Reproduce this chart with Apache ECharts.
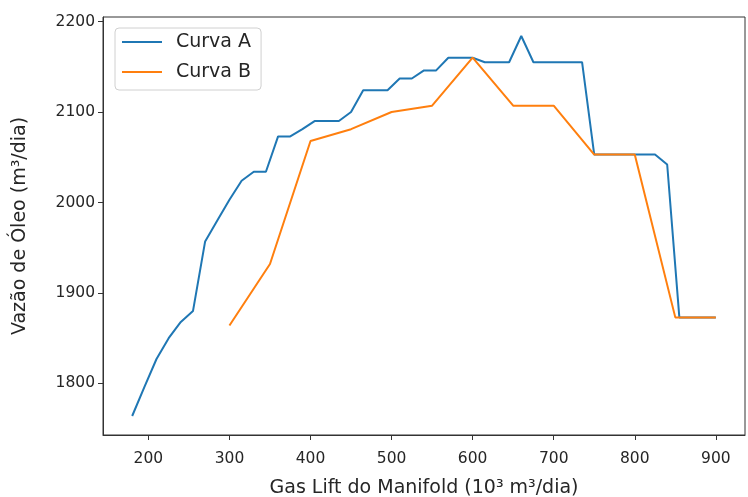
<!DOCTYPE html>
<html>
<head>
<meta charset="utf-8">
<script src="https://cdn.jsdelivr.net/npm/echarts@6/dist/echarts.min.js"></script>
<style>
  html, body { margin: 0; padding: 0; background: #fff; }
  #chart { width: 748px; height: 497px; }
</style>
</head>
<body>
<div id="chart"></div>
<script>
// Curva A: gas lift injection (10³ m³/dia) and oil rate (m³/dia)
const gasLiftA = [180, 195, 210, 225, 240, 255, 270, 285, 300, 315, 330, 345, 360, 375, 390,
  405, 420, 435, 450, 465, 480, 495, 510, 525, 540, 555, 570, 585, 600, 615, 630, 645, 660,
  675, 690, 705, 720, 735, 750, 765, 780, 795, 810, 825, 840, 855, 870, 885, 900];
const oilA = [1764, 1796, 1827, 1850, 1868, 1880, 1957, 1980, 2003, 2024, 2034, 2034, 2073, 2073, 2081,
  2090, 2090, 2090, 2100, 2124, 2124, 2124, 2137, 2137, 2146, 2146, 2160, 2160, 2160, 2155, 2155, 2155, 2184,
  2155, 2155, 2155, 2155, 2155, 2053, 2053, 2053, 2053, 2053, 2053, 2042, 1873, 1873, 1873, 1873];

// Curva B
const gasLiftB = [300, 350, 400, 450, 500, 550, 600, 650, 700, 750, 800, 850, 900];
const oilB = [1864, 1932, 2068, 2081, 2100, 2107, 2160, 2107, 2107, 2053, 2053, 1873, 1873];

// Tick labels
const xTicks = [200, 300, 400, 500, 600, 700, 800, 900];
const yTicks = [1800, 1900, 2000, 2100, 2200];

const seriesNames = ['Curva A', 'Curva B'];
const xTitle = 'Gas Lift do Manifold (10³ m³/dia)';
const yTitle = 'Vazão de Óleo (m³/dia)';

const FONT = 'DejaVu Sans';
const INK = '#262626';
const TICK_SIZE = 15.5;
const LABEL_SIZE = 19;

const zip = (xs, ys) => xs.map((x, i) => [x, ys[i]]);
const plain = v => String(v);

const chart = echarts.init(document.getElementById('chart'), null, { renderer: 'canvas' });
chart.setOption({
  animation: false,
  backgroundColor: '#fff',
  grid: {
    left: 103, right: 3, top: 17, bottom: 62,
    outerBoundsMode: 'none',
    containLabel: false,
    show: true, borderColor: '#333', borderWidth: 1, backgroundColor: 'transparent'
  },
  legend: {
    data: seriesNames,
    orient: 'vertical',
    left: 115, top: 28,
    padding: [4, 10, 8, 7],
    itemGap: 10,
    itemWidth: 40, itemHeight: 2,
    icon: 'rect',
    backgroundColor: 'rgba(255,255,255,0.8)',
    borderColor: '#d0d0d0', borderWidth: 1, borderRadius: 4,
    textStyle: { fontFamily: FONT, fontSize: LABEL_SIZE, color: INK, lineHeight: 20, padding: [0, 0, 0, 9] }
  },
  xAxis: {
    type: 'value',
    min: 144, max: 936,
    name: xTitle,
    nameLocation: 'middle',
    nameGap: 44,
    nameTextStyle: { fontFamily: FONT, fontSize: LABEL_SIZE, color: INK },
    splitLine: { show: false },
    axisLine: { show: true, lineStyle: { color: '#333', width: 1 } },
    axisTick: { show: true, length: 5, lineStyle: { color: '#333' }, customValues: xTicks },
    axisLabel: { fontFamily: FONT, fontSize: TICK_SIZE, color: INK, margin: 16, customValues: xTicks, formatter: plain }
  },
  yAxis: {
    type: 'value',
    min: 1743, max: 2205,
    name: yTitle,
    nameLocation: 'middle',
    nameGap: 73,
    nameTextStyle: { fontFamily: FONT, fontSize: LABEL_SIZE, color: INK },
    splitLine: { show: false },
    axisLine: { show: true, lineStyle: { color: '#333', width: 1 } },
    axisTick: { show: true, length: 5, lineStyle: { color: '#333' }, customValues: yTicks },
    axisLabel: { fontFamily: FONT, fontSize: TICK_SIZE, color: INK, margin: 8, customValues: yTicks, formatter: plain }
  },
  series: [
    {
      name: seriesNames[0], type: 'line', data: zip(gasLiftA, oilA),
      showSymbol: false, symbol: 'none',
      itemStyle: { color: '#1f77b4' },
      lineStyle: { color: '#1f77b4', width: 2 }
    },
    {
      name: seriesNames[1], type: 'line', data: zip(gasLiftB, oilB),
      showSymbol: false, symbol: 'none',
      itemStyle: { color: '#ff7f0e' },
      lineStyle: { color: '#ff7f0e', width: 2 }
    }
  ]
});
</script>
</body>
</html>
